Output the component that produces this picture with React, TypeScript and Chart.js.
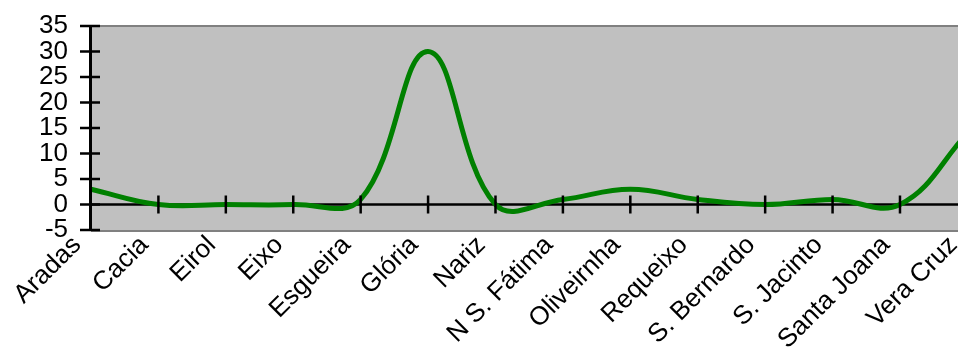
import React, { useEffect, useRef } from "react";
import { Chart, registerables } from "chart.js";

Chart.register(...registerables);

const categories = [
  "Aradas",
  "Cacia",
  "Eirol",
  "Eixo",
  "Esgueira",
  "Glória",
  "Nariz",
  "N S. Fátima",
  "Oliveirnha",
  "Requeixo",
  "S. Bernardo",
  "S. Jacinto",
  "Santa Joana",
  "Vera Cruz",
];

const values = [3, 0, 0, 0, 1, 30, 0, 1, 3, 1, 0, 1, 0, 14];

const yMin = -5;
const yMax = 35;
const yStep = 5;

const FONT = "'Liberation Sans', Arial, sans-serif";

const framePlugin = {
  id: "excelFrame",
  beforeDatasetsDraw(chart: any) {
    const { ctx, chartArea } = chart;
    const { left, right, top, bottom } = chartArea;
    const y = chart.scales.y;
    ctx.save();
    ctx.fillStyle = "#C0C0C0";
    ctx.fillRect(left, top, right - left, bottom - top);
    ctx.strokeStyle = "#808080";
    ctx.lineWidth = 2;
    ctx.beginPath();
    ctx.moveTo(left, top);
    ctx.lineTo(right, top);
    ctx.moveTo(left, bottom + 1);
    ctx.lineTo(right, bottom + 1);
    ctx.stroke();
    const y0 = y.getPixelForValue(0);
    ctx.strokeStyle = "#000000";
    ctx.lineWidth = 2.5;
    ctx.beginPath();
    ctx.moveTo(left, y0);
    ctx.lineTo(right, y0);
    ctx.stroke();
    ctx.restore();
  },
  afterDatasetsDraw(chart: any) {
    const { ctx, chartArea } = chart;
    const { left, top, bottom } = chartArea;
    const x = chart.scales.x;
    const y = chart.scales.y;
    const y0 = y.getPixelForValue(0);
    ctx.save();
    ctx.strokeStyle = "#000000";
    ctx.lineWidth = 2.5;
    ctx.beginPath();
    for (let i = 1; i < categories.length; i++) {
      const px = x.getPixelForValue(i);
      ctx.moveTo(px, y0 - 9);
      ctx.lineTo(px, y0 + 9);
    }
    ctx.stroke();
    ctx.lineWidth = 3;
    ctx.beginPath();
    ctx.moveTo(left - 0.5, top - 1);
    ctx.lineTo(left - 0.5, bottom + 1);
    ctx.stroke();
    ctx.lineWidth = 2.5;
    ctx.beginPath();
    for (let v = yMin; v <= yMax; v += yStep) {
      const py = y.getPixelForValue(v);
      ctx.moveTo(left - 11, py);
      ctx.lineTo(left + 9, py);
    }
    ctx.stroke();
    ctx.restore();
  },
};

export default function App() {
  const canvasRef = useRef<HTMLCanvasElement | null>(null);

  useEffect(() => {
    const canvas = canvasRef.current;
    if (!canvas) return;
    const chart = new Chart(canvas, {
      type: "line",
      data: {
        labels: categories,
        datasets: [
          {
            data: values,
            borderColor: "#008000",
            borderWidth: 5,
            pointRadius: 0,
            fill: false,
            tension: 0.4,
            cubicInterpolationMode: "default",
          },
        ],
      },
      options: {
        animation: false,
        responsive: false,
        devicePixelRatio: 1,
        layout: { padding: { left: 0, top: 26, right: 32.6, bottom: 0 } },
        plugins: {
          legend: { display: false },
          tooltip: { enabled: false },
          title: { display: false },
        },
        elements: { line: { capBezierPoints: false } },
        scales: {
          x: {
            type: "category",
            offset: false,
            grid: { display: false },
            border: { display: false },
            ticks: {
              autoSkip: false,
              maxRotation: 45,
              minRotation: 45,
              padding: -8,
              labelOffset: -14,
              color: "#000000",
              font: { family: FONT, size: 26 },
            },
            afterFit(scale: any) {
              scale.height = 119;
              scale.paddingLeft = 0;
              scale.paddingRight = 0;
            },
          },
          y: {
            min: yMin,
            max: yMax,
            grid: { display: false },
            border: { display: false },
            ticks: {
              autoSkip: false,
              stepSize: yStep,
              padding: 15,
              color: "#000000",
              font: { family: FONT, size: 26 },
            },
            afterFit(scale: any) {
              scale.width = 91;
              scale.paddingTop = 0;
              scale.paddingBottom = 0;
            },
          },
        },
      },
      plugins: [framePlugin],
    });
    return () => chart.destroy();
  }, []);

  return (
    <div
      style={{
        position: "fixed",
        left: 0,
        top: 0,
        width: 958,
        height: 349,
        overflow: "hidden",
        background: "#ffffff",
      }}
    >
      <canvas
        ref={canvasRef}
        width={1000}
        height={349}
        style={{ display: "block", width: 1000, height: 349 }}
      />
    </div>
  );
}
